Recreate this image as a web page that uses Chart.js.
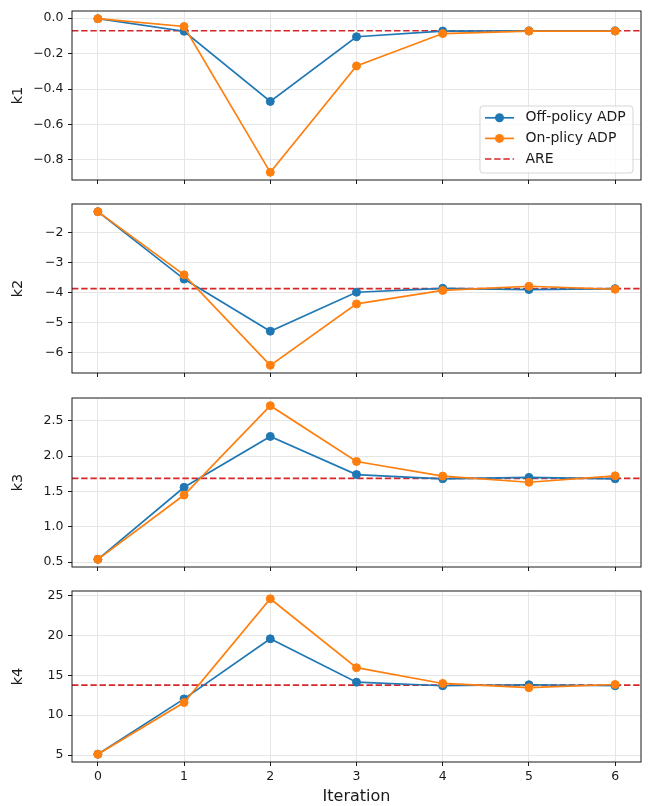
<!DOCTYPE html>
<html>
<head>
<meta charset="utf-8">
<title>Gain convergence</title>
<script src="https://cdn.jsdelivr.net/npm/chart.js@4.4.1/dist/chart.umd.min.js"></script>
<style>
  html, body { margin: 0; padding: 0; background: #fff; }
  #wrap { position: relative; width: 651px; height: 806px; overflow: hidden; }
  #wrap canvas { position: absolute; left: 0; }
</style>
</head>
<body>
<div id="wrap">
  <canvas id="k1Chart"></canvas>
  <canvas id="k2Chart"></canvas>
  <canvas id="k3Chart"></canvas>
  <canvas id="k4Chart"></canvas>
</div>
<script>
// iteration index on the shared x axis
const iterations = [0, 1, 2, 3, 4, 5, 6];

// feedback gains per iteration
const offPolicyK1 = [-0.003, -0.074, -0.47, -0.105, -0.073, -0.072, -0.072];
const onPolicyK1 = [-0.003, -0.047, -0.87, -0.27, -0.087, -0.073, -0.073];
const offPolicyK2 = [-1.29, -3.54, -5.28, -3.98, -3.85, -3.89, -3.86];
const onPolicyK2 = [-1.29, -3.40, -6.42, -4.37, -3.92, -3.78, -3.88];
const offPolicyK3 = [0.54, 1.56, 2.28, 1.74, 1.68, 1.70, 1.68];
const onPolicyK3 = [0.54, 1.45, 2.715, 1.925, 1.718, 1.631, 1.722];
const offPolicyK4 = [5.1, 12.05, 19.6, 14.15, 13.7, 13.83, 13.7];
const onPolicyK4 = [5.1, 11.6, 24.63, 15.97, 13.99, 13.46, 13.86];

// optimal gains from the Riccati equation
const areK = [-0.071, -3.86, 1.686, 13.78];

const gainNames = ["k1", "k2", "k3", "k4"];

const k1Ticks = [0, -0.2, -0.4, -0.6, -0.8];
const k1TickLabels = ["0.0", "\u22120.2", "\u22120.4", "\u22120.6", "\u22120.8"];
const k2Ticks = [-2, -3, -4, -5, -6];
const k2TickLabels = ["\u22122", "\u22123", "\u22124", "\u22125", "\u22126"];
const k3Ticks = [0.5, 1.0, 1.5, 2.0, 2.5];
const k3TickLabels = ["0.5", "1.0", "1.5", "2.0", "2.5"];
const k4Ticks = [5, 10, 15, 20, 25];
const k4TickLabels = ["5", "10", "15", "20", "25"];
const xTickLabels = ["0", "1", "2", "3", "4", "5", "6"];

const seriesNames = ["Off-policy ADP", "On-plicy ADP", "ARE"];
const BLUE = "#1f77b4";
const ORANGE = "#ff7f0e";
const RED = "#d62728";

const AXIS_LEFT = 72;
const PAD_RIGHT = 10;
const PAD_TOP = 10;
const AREA_H = 173;
const areaTops = [9, 202, 396, 589];

Chart.defaults.font.family = "'DejaVu Sans', sans-serif";
Chart.defaults.color = "#1a1a1a";

// autoscale with 5% margins, the way pyplot does
function paddedRange(values) {
  const lo = Math.min(...values);
  const hi = Math.max(...values);
  const m = (hi - lo) * 0.05;
  return [lo - m, hi + m];
}

// axes frame on all four sides
const axesFrame = {
  id: "axesFrame",
  afterDatasetsDraw(chart) {
    const { ctx, chartArea: a } = chart;
    ctx.save();
    ctx.strokeStyle = "#1a1a1a";
    ctx.lineWidth = 1;
    ctx.strokeRect(a.left, a.top, a.right - a.left, a.bottom - a.top);
    ctx.restore();
  },
};

// boxed legend in the lower right corner of the axes
const cornerLegend = {
  id: "cornerLegend",
  afterDatasetsDraw(chart, args, opts) {
    if (!opts.show) return;
    const { ctx, chartArea: a } = chart;
    const w = 153, h = 67;
    const x = a.right - 8 - w;
    const y = a.bottom - 7 - h;
    ctx.save();
    ctx.beginPath();
    ctx.roundRect(x, y, w, h, 3);
    ctx.fillStyle = "rgba(255,255,255,0.8)";
    ctx.fill();
    ctx.strokeStyle = "rgba(204,204,204,0.8)";
    ctx.lineWidth = 1;
    ctx.stroke();
    chart.data.datasets.forEach((ds, i) => {
      const cy = y + 11.8 + i * 20.6;
      ctx.strokeStyle = ds.borderColor;
      ctx.lineWidth = ds.borderWidth;
      ctx.setLineDash(ds.borderDash || []);
      ctx.beginPath();
      ctx.moveTo(x + 5, cy);
      ctx.lineTo(x + 34, cy);
      ctx.stroke();
      ctx.setLineDash([]);
      if (ds.pointRadius > 0) {
        ctx.beginPath();
        ctx.arc(x + 19.5, cy, ds.pointRadius + 0.5, 0, Math.PI * 2);
        ctx.fillStyle = ds.borderColor;
        ctx.fill();
      }
      ctx.fillStyle = "#1a1a1a";
      ctx.font = "14px 'DejaVu Sans', sans-serif";
      ctx.textBaseline = "middle";
      ctx.textAlign = "left";
      ctx.fillText(ds.label, x + 45.5, cy);
    });
    ctx.restore();
  },
};

const panels = [
  { off: offPolicyK1, on: onPolicyK1, ticks: k1Ticks, labels: k1TickLabels },
  { off: offPolicyK2, on: onPolicyK2, ticks: k2Ticks, labels: k2TickLabels },
  { off: offPolicyK3, on: onPolicyK3, ticks: k3Ticks, labels: k3TickLabels },
  { off: offPolicyK4, on: onPolicyK4, ticks: k4Ticks, labels: k4TickLabels },
];

const xRange = paddedRange(iterations);

panels.forEach((p, i) => {
  const last = i === panels.length - 1;
  const xHeight = last ? 806 - (areaTops[i] + AREA_H) : 10;
  const canvas = document.getElementById(gainNames[i] + "Chart");
  canvas.width = 651;
  canvas.height = PAD_TOP + AREA_H + xHeight;
  canvas.style.top = (areaTops[i] - PAD_TOP) + "px";

  const yRange = paddedRange(p.off.concat(p.on, [areK[i]]));
  const toPoints = (vals) => iterations.map((x, j) => ({ x: x, y: vals[j] }));

  new Chart(canvas.getContext("2d"), {
    type: "line",
    data: {
      datasets: [
        {
          label: seriesNames[0],
          data: toPoints(p.off),
          borderColor: BLUE,
          backgroundColor: BLUE,
          borderWidth: 1.7,
          pointRadius: 4,
          pointBorderWidth: 1,
          order: 2,
        },
        {
          label: seriesNames[1],
          data: toPoints(p.on),
          borderColor: ORANGE,
          backgroundColor: ORANGE,
          borderWidth: 1.7,
          pointRadius: 4,
          pointBorderWidth: 1,
          order: 1,
        },
        {
          label: seriesNames[2],
          data: [{ x: xRange[0], y: areK[i] }, { x: xRange[1], y: areK[i] }],
          borderColor: RED,
          borderWidth: 1.7,
          borderDash: [6.4, 2.8],
          pointRadius: 0,
          order: 3,
        },
      ],
    },
    options: {
      responsive: false,
      animation: false,
      events: [],
      layout: { padding: { top: PAD_TOP, right: PAD_RIGHT, left: 0, bottom: 0 } },
      plugins: {
        legend: { display: false },
        tooltip: { enabled: false },
        cornerLegend: { show: i === 0 },
      },
      scales: {
        x: {
          type: "linear",
          min: xRange[0],
          max: xRange[1],
          afterBuildTicks: (s) => { s.ticks = iterations.map((v) => ({ value: v })); },
          afterFit: (s) => { s.height = xHeight; },
          grid: { color: "#e6e6e6", lineWidth: 1, tickColor: "#1a1a1a", tickLength: 4, tickWidth: 1 },
          border: { display: false },
          ticks: {
            display: last,
            padding: 3,
            font: { size: 12.5 },
            maxRotation: 0,
            callback: (v, idx) => xTickLabels[idx],
          },
          title: {
            display: last,
            text: "Iteration",
            font: { size: 16 },
            padding: { top: 0, bottom: 0 },
          },
        },
        y: {
          type: "linear",
          min: yRange[0],
          max: yRange[1],
          afterBuildTicks: (s) => { s.ticks = p.ticks.map((v) => ({ value: v })); },
          afterFit: (s) => { s.width = AXIS_LEFT; },
          grid: { color: "#e6e6e6", lineWidth: 1, tickColor: "#1a1a1a", tickLength: 4, tickWidth: 1 },
          border: { display: false },
          ticks: {
            padding: 4.5,
            font: { size: 12.5 },
            callback: (v, idx) => p.labels[idx],
          },
          title: {
            display: true,
            text: gainNames[i],
            font: { size: 14.5 },
            padding: { top: 10, bottom: 4 },
          },
        },
      },
    },
    plugins: [axesFrame, cornerLegend],
  });
});
</script>
</body>
</html>
